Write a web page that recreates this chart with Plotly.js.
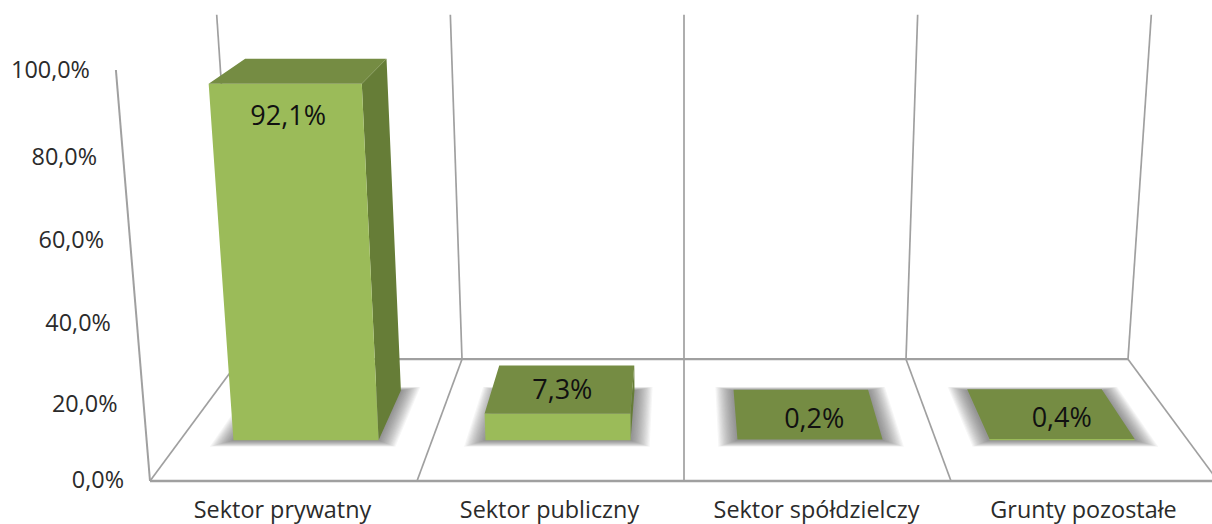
<!DOCTYPE html>
<html><head><meta charset="utf-8">
<script src="https://cdn.plot.ly/plotly-3.0.1.min.js"></script>
<style>html,body{margin:0;padding:0;background:#fff;overflow:hidden}#c{width:1212px;height:524px}</style>
</head><body><div id="c"></div>
<script>
// ---- data ----
const categories = ['Sektor prywatny', 'Sektor publiczny', 'Sektor spółdzielczy', 'Grunty pozostałe'];
const shares = [92.1, 7.3, 0.2, 0.4];
const shareLabels = ['92,1%', '7,3%', '0,2%', '0,4%'];
const axisTicks = [0, 20, 40, 60, 80, 100];
const axisTickLabels = ['0,0%', '20,0%', '40,0%', '60,0%', '80,0%', '100,0%'];

// ---- perspective of the 3-D box ----
const centreX = 684, unitX = 267, floorY = 481, riseY = -415.2, depthY = -49, riseW = -0.06, depthW = 0.2027;
function project(u, value, d) {
  const v = value / 100;
  const w = 1 + riseW * v + depthW * d;
  return [centreX + u * unitX / w, (floorY + riseY * v + depthY * d) / w];
}
const barHalf = 0.288, barFront = 0.294, barBack = 0.706;
const slotCentre = i => i - categories.length / 2 + 0.5;
function poly(corners) {
  const pts = corners.map(c => project(c[0], c[1], c[2]));
  return { x: pts.map(p => p[0]).concat(pts[0][0]), y: pts.map(p => p[1]).concat(pts[0][1]) };
}
function fillTrace(polys, color) {
  const x = [], y = [];
  polys.forEach(p => { x.push(...p.x, null); y.push(...p.y, null); });
  return { type: 'scatter', mode: 'lines', x, y, fill: 'toself', fillcolor: color,
           line: { width: 0, color }, hoverinfo: 'skip', showlegend: false };
}
function lineTrace(a, b, width) {
  const p = project(a[0], a[1], a[2]), q = project(b[0], b[1], b[2]);
  return { type: 'scatter', mode: 'lines', x: [p[0], q[0]], y: [p[1], q[1]],
           line: { color: '#a0a0a0', width }, hoverinfo: 'skip', showlegend: false };
}

const traces = [];
// box edges
traces.push(lineTrace([-2, 0, 0], [2.2, 0, 0], 2.4));
traces.push(lineTrace([-2, 0, 0], [-2, 100, 0], 2));
traces.push(lineTrace([-2, 0, 1], [2, 0, 1], 2.2));
[-2, -1, 0, 1, 2].forEach(u => {
  traces.push(lineTrace([u, 0, 0], [u, 0, 1], 1.7));
  traces.push(lineTrace([u, 0, 1], [u, 100, 1], 1.7));
});
// soft floor shadows
for (let k = 16; k >= 1; k--) {
  const du = 0.0048 * k, dFront = 0.003 * k, dBack = 0.002 * k;
  const shade = categories.map((_, i) => {
    const c = slotCentre(i);
    return poly([[c - barHalf - du, 0, barFront - dFront], [c + barHalf + du, 0, barFront - dFront],
                 [c + barHalf + du, 0, barBack + dBack], [c - barHalf - du, 0, barBack + dBack]]);
  });
  traces.push(fillTrace(shade, 'rgba(70,70,70,0.05)'));
}
// bars
const sides = [], fronts = [], tops = [];
shares.forEach((s, i) => {
  const c = slotCentre(i), l = c - barHalf, r = c + barHalf, e = c < 0 ? r : l;
  sides.push(poly([[e, 0, barFront], [e, 0, barBack], [e, s, barBack], [e, s, barFront]]));
  fronts.push(poly([[l, 0, barFront], [r, 0, barFront], [r, s, barFront], [l, s, barFront]]));
  tops.push(poly([[l, s, barFront], [r, s, barFront], [r, s, barBack], [l, s, barBack]]));
});
traces.push(fillTrace(sides, '#667d37'));
traces.push(fillTrace(fronts, '#9bbb59'));
traces.push(fillTrace(tops, '#758c43'));

// value labels
const labelNudge = [[-13, 47], [0, 4], [9, 7], [14, 7]];
const labelPts = shares.map((s, i) => project(slotCentre(i), s, 0.5));
traces.push({ type: 'scatter', mode: 'text',
  x: labelPts.map((p, i) => p[0] + labelNudge[i][0]), y: labelPts.map((p, i) => p[1] + labelNudge[i][1]),
  text: shareLabels, textposition: 'middle center', cliponaxis: false,
  textfont: { family: 'Open Sans', size: 27, color: '#111' }, hoverinfo: 'skip', showlegend: false });

// value-axis labels following the slanted front edge
const tickNudge = [1, 3, 2, 2, 3, 2];
const tickPts = axisTicks.map(t => project(-2, t, 0));
traces.push({ type: 'scatter', mode: 'text',
  x: tickPts.map(p => p[0] - 26), y: tickPts.map((p, i) => p[1] + tickNudge[i]),
  text: axisTickLabels, textposition: 'middle left', cliponaxis: false,
  textfont: { family: 'Open Sans', size: 23.4, color: '#2b2b2b' }, hoverinfo: 'skip', showlegend: false });

const layout = {
  width: 1212, height: 524, margin: { l: 0, r: 0, t: 0, b: 30 },
  paper_bgcolor: '#fff', plot_bgcolor: '#fff', showlegend: false,
  font: { family: 'Open Sans', color: '#2b2b2b' },
  xaxis: { range: [0, 1212], showgrid: false, zeroline: false, showline: false, ticks: '',
           tickmode: 'array', tickvals: categories.map((_, i) => project(slotCentre(i), 0, 0)[0] - 1),
           ticktext: categories, tickangle: 0, tickfont: { family: 'Open Sans', size: 23.4, color: '#2b2b2b' } },
  yaxis: { range: [494, 0], visible: false }
};
Plotly.newPlot('c', traces, layout, { staticPlot: true, displayModeBar: false });
</script></body></html>
